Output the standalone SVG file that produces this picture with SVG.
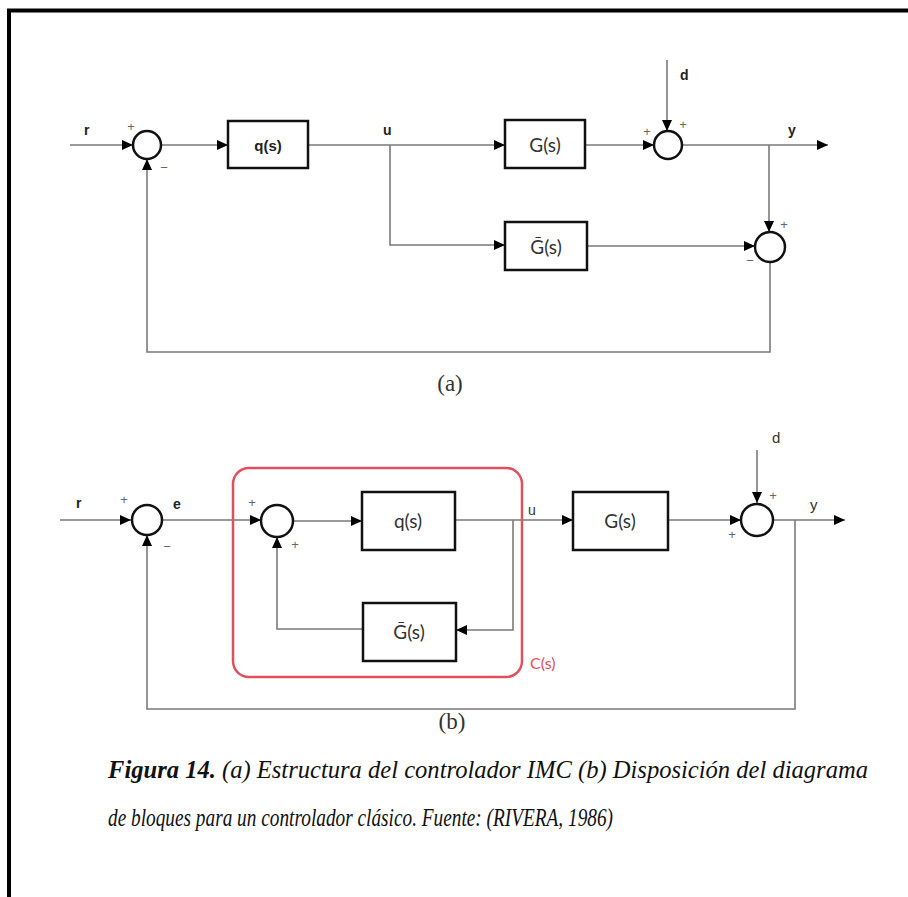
<svg xmlns="http://www.w3.org/2000/svg" width="908" height="897" viewBox="0 0 908 897">
<style>
.ln{fill:none;stroke:#7a7a7a;stroke-width:1.6}
.blk{fill:#fff;stroke:#111;stroke-width:2.5}
.sum{fill:#fff;stroke:#111;stroke-width:2.5}
.lbl{font-family:"Liberation Sans",Arial,sans-serif;font-weight:bold;font-size:14px;fill:#222}
.tf{font-family:Lato,"Open Sans",sans-serif;font-size:19px;fill:#333;text-anchor:middle}
.tb{font-family:"Liberation Sans",Arial,sans-serif;font-weight:bold;font-size:15px;fill:#222;text-anchor:middle}
.sg{font-family:"Liberation Sans",Arial,sans-serif;font-size:13px;fill:#666;text-anchor:middle}
.cap{font-family:"Liberation Serif","Times New Roman",serif;font-style:italic;font-size:25px;fill:#111}
.sub{font-family:"Liberation Serif",serif;font-size:23px;fill:#333;text-anchor:middle}
</style>
<defs>
<marker id="ar" markerUnits="userSpaceOnUse" markerWidth="11" markerHeight="10" refX="11" refY="5" orient="auto">
<path d="M0,0 L11,5 L0,10 z" fill="#000"/>
</marker>
</defs>
<rect width="908" height="897" fill="#fff"/>
<path d="M9,897 V10.5 H908" fill="none" stroke="#000" stroke-width="4"/>

<g id="connectors">
<path class="ln" d="M70,145 H133" marker-end="url(#ar)"/>
<path class="ln" d="M161,145 H228" marker-end="url(#ar)"/>
<path class="ln" d="M308,145 H505" marker-end="url(#ar)"/>
<path class="ln" d="M390,145 V245 H505" marker-end="url(#ar)"/>
<path class="ln" d="M585,145 H654" marker-end="url(#ar)"/>
<path class="ln" d="M667,60 V131" marker-end="url(#ar)"/>
<path class="ln" d="M682,145 H828" marker-end="url(#ar)"/>
<path class="ln" d="M769,145 V232" marker-end="url(#ar)"/>
<path class="ln" d="M587,246 H755" marker-end="url(#ar)"/>
<path class="ln" d="M770,262 V352 H147 V159" marker-end="url(#ar)"/>

<path class="ln" d="M60,520 H131" marker-end="url(#ar)"/>
<path class="ln" d="M162,520 H261" marker-end="url(#ar)"/>
<path class="ln" d="M293,521 H362" marker-end="url(#ar)"/>
<path class="ln" d="M455,520 H573" marker-end="url(#ar)"/>
<path class="ln" d="M513,520 V630 H456" marker-end="url(#ar)"/>
<path class="ln" d="M363,629 H277 V537" marker-end="url(#ar)"/>
<path class="ln" d="M668,520 H741" marker-end="url(#ar)"/>
<path class="ln" d="M757,450 V503" marker-end="url(#ar)"/>
<path class="ln" d="M773,520 H845" marker-end="url(#ar)"/>
<path class="ln" d="M795,520 V709 H147 V535" marker-end="url(#ar)"/>
</g>

<!-- diagram (a) -->
<g id="a-sum1"><circle class="sum" cx="147" cy="145" r="14"/><text class="sg" x="131" y="131">+</text><text class="sg" x="164" y="172">−</text></g>
<g id="a-q"><rect class="blk" x="228" y="121" width="80" height="47"/><text class="tb" x="268" y="151">q(s)</text></g>
<g id="a-G"><rect class="blk" x="505" y="120" width="80" height="48"/><text class="tf" x="545" y="152" font-size="20">G(s)</text></g>
<g id="a-sum2"><circle class="sum" cx="668" cy="145" r="14"/><text class="sg" x="647" y="136">+</text><text class="sg" x="683" y="129">+</text></g>
<g id="a-Gbar"><rect class="blk" x="505" y="222" width="82" height="48"/><text class="tf" x="546" y="254" font-size="20">Ḡ(s)</text></g>
<g id="a-sum3"><circle class="sum" cx="770" cy="247" r="15"/><text class="sg" x="784" y="229">+</text><text class="sg" x="750" y="265">−</text></g>
<g id="a-labels">
<text class="lbl" x="84" y="135">r</text>
<text class="lbl" x="383" y="135">u</text>
<text class="lbl" x="680" y="80">d</text>
<text class="lbl" x="788" y="135">y</text>
<text class="sub" x="450" y="391">(a)</text>
</g>

<!-- diagram (b) -->
<g id="b-controller"><rect x="233" y="468" width="289" height="209" rx="16" fill="none" stroke="#e0505e" stroke-width="2.5"/><text x="530" y="669" font-family="Lato,'Open Sans',sans-serif" font-size="16" fill="#e0505e">C(s)</text></g>
<g id="b-sum1"><circle class="sum" cx="147" cy="520" r="15"/><text class="sg" x="124" y="504">+</text><text class="sg" x="167" y="551">−</text></g>
<g id="b-sum2"><circle class="sum" cx="277" cy="521" r="16"/><text class="sg" x="252" y="507">+</text><text class="sg" x="295" y="549">+</text></g>
<g id="b-q"><rect class="blk" x="362" y="492" width="93" height="58"/><text class="tf" x="408" y="528">q(s)</text></g>
<g id="b-Gbar"><rect class="blk" x="363" y="603" width="93" height="58"/><text class="tf" x="409" y="639">Ḡ(s)</text></g>
<g id="b-G"><rect class="blk" x="573" y="492" width="95" height="58"/><text class="tf" x="620" y="528">G(s)</text></g>
<g id="b-sum3"><circle class="sum" cx="757" cy="520" r="16"/><text class="sg" x="773" y="500">+</text><text class="sg" x="732" y="539">+</text></g>
<g id="b-labels">
<text class="lbl" x="76" y="508">r</text>
<text class="lbl" x="173" y="509">e</text>
<text x="528" y="515" font-family="'Liberation Sans',sans-serif" font-size="14" fill="#333">u</text>
<text x="772" y="443" font-family="'Liberation Sans',sans-serif" font-size="15" fill="#333">d</text>
<text x="810" y="510" font-family="'Liberation Sans',sans-serif" font-size="15" fill="#333">y</text>
<text class="sub" x="452" y="729">(b)</text>
</g>

<g id="caption">
<text class="cap" x="108" y="778" textLength="760" lengthAdjust="spacingAndGlyphs"><tspan font-weight="bold">Figura 14.</tspan> (a) Estructura del controlador IMC (b) Disposición del diagrama</text>
<text class="cap" x="108" y="826" textLength="505" lengthAdjust="spacingAndGlyphs">de bloques para un controlador clásico. Fuente: (RIVERA, 1986)</text>
</g>
</svg>
